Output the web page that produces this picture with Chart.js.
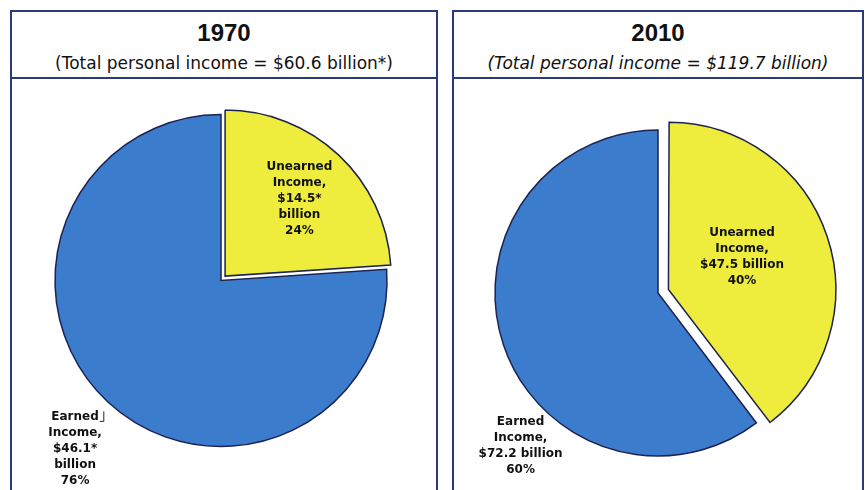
<!DOCTYPE html>
<html>
<head>
<meta charset="utf-8">
<script src="https://cdn.jsdelivr.net/npm/chart.js@4.4.1/dist/chart.umd.min.js"></script>
<style>
  body { margin: 0; background: #fff; width: 867px; height: 490px; overflow: hidden; position: relative; }
  .panel { position: absolute; top: 10px; height: 500px; border: 2px solid #2b3a78; border-bottom: none; box-sizing: border-box; }
  .head { height: 67px; border-bottom: 2px solid #2b3a78; text-align: center; box-sizing: border-box; }
  .year { font-family: "Liberation Sans", Arial, sans-serif; font-weight: bold; font-size: 24px; line-height: 24px; padding-top: 9px; color: #111; }
  .sub { font-family: "DejaVu Sans", sans-serif; font-size: 17px; line-height: 20px; margin-top: 8px; color: #111; }
  .chartBox { position: absolute; left: 0; top: 67px; }
</style>
</head>
<body>
<div class="panel" id="p0" style="left:10px; width:428px;">
  <div class="head"><div class="year" id="y0"></div><div class="sub" id="s0"></div></div>
  <div class="chartBox" style="width:424px; height:411px;"><canvas id="c0"></canvas></div>
</div>
<div class="panel" id="p1" style="left:452px; width:412px;">
  <div class="head"><div class="year" id="y1"></div><div class="sub" id="s1" style="font-style:italic;"></div></div>
  <div class="chartBox" style="width:408px; height:411px;"><canvas id="c1"></canvas></div>
</div>
<script>
// data
const years = ['1970', '2010'];
const totalIncome = ['$60.6 billion*', '$119.7 billion'];
const categories = ['Unearned Income', 'Earned Income'];
const income1970 = [14.5, 46.1];
const income2010 = [47.5, 72.2];
const share1970 = [24, 76];
const share2010 = [40, 60];
const amountText1970 = ['$14.5*', '$46.1*'];
const amountText2010 = ['$47.5', '$72.2'];

const BLUE = '#3b7dcc';
const YELLOW = '#eeec3c';
const EDGE = '#1c2252';

function labelLines(cat, amount, pct, splitBillion) {
  const words = cat.split(' ');
  const lines = [words[0], words[1] + ','];
  if (splitBillion) {
    lines.push(amount, 'billion');
  } else {
    lines.push(amount + ' billion');
  }
  lines.push(pct + '%');
  return lines;
}

// plugin: slice labels placed by angle (deg from top) and radius factor
const sliceLabels = {
  id: 'sliceLabels',
  afterDatasetsDraw(chart, args, opts) {
    const arc = chart.getDatasetMeta(0).data[0];
    if (!arc) return;
    const ctx = chart.ctx;
    const cx = arc.x, cy = arc.y, r = arc.outerRadius;
    ctx.save();
    ctx.font = 'bold 12px "DejaVu Sans", sans-serif';
    ctx.fillStyle = '#111';
    ctx.textAlign = 'center';
    ctx.textBaseline = 'middle';
    opts.items.forEach(function(it) {
      const a = (it.angle - 90) * Math.PI / 180;
      const x = cx + Math.cos(a) * it.factor * r;
      const y = cy + Math.sin(a) * it.factor * r;
      const lh = 16;
      const top = y - (it.lines.length - 1) * lh / 2;
      it.lines.forEach(function(t, i) {
        ctx.fillText(t, x, top + i * lh);
      });
      if (it.leader) {
        const w = ctx.measureText(it.lines[0]).width;
        const lx = x + w / 2 + 1;
        ctx.strokeStyle = '#222';
        ctx.lineWidth = 1;
        ctx.beginPath();
        ctx.moveTo(lx, top + 5);
        ctx.lineTo(lx + 4, top + 5);
        ctx.lineTo(lx + 4, top - 5);
        ctx.stroke();
      }
    });
    ctx.restore();
  }
};

// note: chart.js draws offset/4 along the slice's mid angle
function makePie(id, values, yellowOffset, radius, padding, items) {
  return new Chart(document.getElementById(id), {
    type: 'pie',
    data: {
      labels: categories,
      datasets: [{
        data: values,
        backgroundColor: [YELLOW, BLUE],
        borderColor: EDGE,
        borderWidth: 1.5,
        borderJoinStyle: 'miter',
        offset: [yellowOffset, 0],
        radius: radius
      }]
    },
    options: {
      responsive: true,
      maintainAspectRatio: false,
      animation: false,
      layout: { padding: padding },
      plugins: {
        legend: { display: false },
        tooltip: { enabled: false },
        sliceLabels: { items: items }
      }
    },
    plugins: [sliceLabels]
  });
}

document.getElementById('y0').textContent = years[0];
document.getElementById('s0').textContent = '(Total personal income = ' + totalIncome[0] + ')';
document.getElementById('y1').textContent = years[1];
document.getElementById('s1').textContent = '(Total personal income = ' + totalIncome[1] + ')';

makePie('c0', income1970, 24, 166, { left: 0, right: 6, top: 0, bottom: 8 }, [
  { lines: labelLines(categories[0], amountText1970[0], share1970[0], true), angle: 44, factor: 0.68 },
  { lines: labelLines(categories[1], amountText1970[1], share1970[1], true), angle: 221, factor: 1.34, leader: true }
]);

makePie('c1', income2010, 44, 163, { left: 0, right: 0, top: 17, bottom: 0 }, [
  { lines: labelLines(categories[0], amountText2010[0], share2010[0], false), angle: 67, factor: 0.56 },
  { lines: labelLines(categories[1], amountText2010[1], share2010[1], false), angle: 222, factor: 1.26 }
]);
</script>
</body>
</html>
